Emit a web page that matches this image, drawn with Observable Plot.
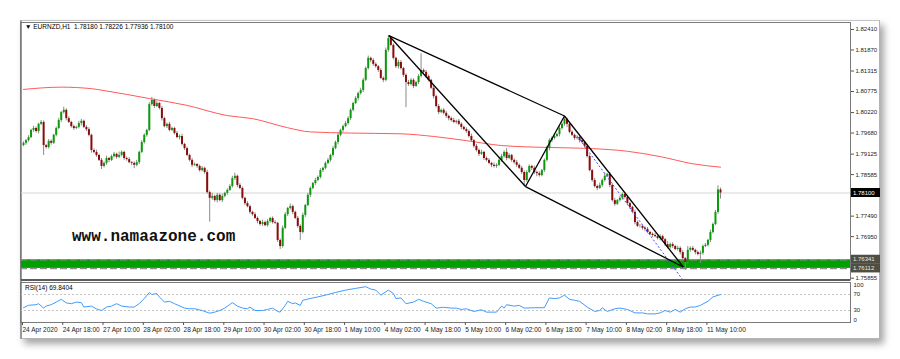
<!DOCTYPE html>
<html><head><meta charset="utf-8">
<script src="https://cdn.jsdelivr.net/npm/d3@7"></script>
<script src="https://cdn.jsdelivr.net/npm/@observablehq/plot@0.6"></script>
<style>
body{margin:0;background:#fff;}
#wrap{position:relative;width:900px;height:359px;overflow:hidden;font-family:"Liberation Sans","DejaVu Sans",sans-serif;}
#win{position:absolute;left:20px;top:20px;width:857px;height:317px;background:#fff;border-left:2px solid #9a9a9a;border-top:1px solid #c4c4c4;border-right:1px solid #b4b4b4;border-bottom:1px solid #b4b4b4;box-shadow:4px 5px 7px rgba(0,0,0,0.35);}
.abs{position:absolute;}
#main,#rsi{width:900px;}
#sep{position:absolute;left:21px;top:279px;width:829px;height:2px;background:#5c5c5c;}
#hdr{left:25px;top:23px;font-size:6.5px;color:#000;white-space:pre;}
#rsil{left:25px;top:284px;font-size:6.5px;color:#000;white-space:pre;}
#wm{left:72px;top:228px;font-family:"Liberation Mono","DejaVu Sans Mono",monospace;font-weight:bold;font-size:16px;color:#111;}
</style></head><body>
<div id="wrap">
<div id="win"></div>
<div id="main" class="abs" style="left:0;top:0"></div>
<div id="rsi" class="abs" style="left:0;top:280px"></div>
<div id="sep"></div>
<div id="hdr" class="abs">▼ EURNZD,H1  1.78180 1.78226 1.77936 1.78100</div>
<div id="rsil" class="abs">RSI(14) 69.8404</div>
<div id="wm" class="abs">www.namaazone.com</div>
</div>
<script>
// ---- data ----
const firstOpen = 1.7935;
const closes = [
1.7941,1.7948,1.7956,1.7975,1.7980,1.7972,1.7991,1.7996,1.7935,1.7930,
1.7946,1.7941,1.7962,1.7980,1.8001,1.8022,1.8028,1.8006,1.7996,1.7985,
1.7980,1.7983,1.7993,1.7999,1.7983,1.7977,1.7962,1.7922,1.7917,1.7909,
1.7896,1.7880,1.7888,1.7901,1.7896,1.7906,1.7912,1.7904,1.7909,1.7917,
1.7901,1.7898,1.7890,1.7888,1.7883,1.7890,1.7917,1.7943,1.7962,1.7975,
1.8043,1.8054,1.8038,1.8046,1.8033,1.8006,1.7985,1.7991,1.7975,1.7980,
1.7967,1.7956,1.7959,1.7938,1.7927,1.7909,1.7896,1.7883,1.7885,1.7880,
1.7869,1.7875,1.7864,1.7811,1.7796,1.7801,1.7790,1.7804,1.7790,1.7801,
1.7809,1.7817,1.7827,1.7848,1.7854,1.7830,1.7822,1.7796,1.7782,1.7774,
1.7759,1.7753,1.7743,1.7735,1.7727,1.7732,1.7724,1.7735,1.7743,1.7732,
1.7730,1.7685,1.7669,1.7717,1.7753,1.7769,1.7774,1.7759,1.7743,1.7722,
1.7706,1.7751,1.7777,1.7804,1.7822,1.7835,1.7843,1.7851,1.7869,1.7875,
1.7888,1.7896,1.7909,1.7927,1.7943,1.7962,1.7975,1.7985,1.7993,1.8006,
1.8028,1.8046,1.8059,1.8072,1.8080,1.8107,1.8138,1.8165,1.8159,1.8149,
1.8143,1.8133,1.8112,1.8107,1.8186,1.8217,1.8199,1.8165,1.8143,1.8154,
1.8138,1.8120,1.8101,1.8096,1.8107,1.8091,1.8101,1.8117,1.8133,1.8128,
1.8117,1.8107,1.8086,1.8064,1.8038,1.8022,1.8028,1.8020,1.8012,1.8006,
1.8001,1.7996,1.7999,1.7991,1.7983,1.7977,1.7972,1.7959,1.7948,1.7933,
1.7922,1.7912,1.7917,1.7901,1.7896,1.7888,1.7883,1.7880,1.7883,1.7896,
1.7906,1.7917,1.7901,1.7909,1.7896,1.7890,1.7883,1.7875,1.7864,1.7843,
1.7864,1.7880,1.7875,1.7864,1.7861,1.7856,1.7869,1.7896,1.7927,1.7948,
1.7954,1.7959,1.7964,1.7980,1.7991,1.8004,1.7991,1.7970,1.7962,1.7954,
1.7956,1.7948,1.7943,1.7933,1.7906,1.7869,1.7843,1.7827,1.7822,1.7830,
1.7843,1.7854,1.7859,1.7830,1.7790,1.7780,1.7790,1.7796,1.7806,1.7798,
1.7782,1.7772,1.7759,1.7732,1.7722,1.7722,1.7717,1.7714,1.7706,1.7701,
1.7698,1.7695,1.7690,1.7695,1.7687,1.7674,1.7666,1.7674,1.7669,1.7661,
1.7664,1.7653,1.7637,1.7627,1.7659,1.7664,1.7659,1.7653,1.7648,1.7651,
1.7669,1.7672,1.7685,1.7706,1.7727,1.7759,1.7818,1.7810];
// upper / lower wick lengths in pips (0.0001)
const hiWick = [
4,3,5,3,6,4,3,5,4,3, 5,4,3,4,6,3,8,4,5,3, 4,3,6,5,3,4,5,3,4,6, 3,5,4,6,3,4,5,3,9,4,
3,4,5,3,4,6,3,5,4,3, 5,8,4,6,3,5,4,3,5,4, 3,5,4,6,3,4,3,5,4,3, 4,5,3,6,4,8,3,5,4,6,
3,4,5,6,8,3,5,4,3,5, 4,3,5,4,3,6,4,5,3,4, 5,3,4,6,5,3,7,4,3,5, 4,6,3,5,4,3,6,4,5,3,
4,5,3,6,4,5,3,4,6,5, 4,3,5,4,6,5,4,6,3,5, 4,3,5,4,6,8,5,4,3,6, 5,3,4,6,5,4,3,5,44,4,
5,4,3,6,4,5,3,4,5,3, 4,6,3,5,4,3,5,4,6,3, 5,4,6,3,4,5,3,6,4,5, 6,4,10,5,3,4,6,3,5,4,
5,4,3,6,4,5,3,4,6,5, 4,6,3,5,4,9,3,5,4,3, 5,4,6,3,5,4,3,5,4,6, 4,8,3,5,4,6,3,5,4,3,
5,4,3,6,4,5,3,4,5,3, 4,6,3,5,4,3,8,4,5,3, 6,4,5,3,10,4,5,3,4,6, 4,5,3,6,4,5,11,5];
const loWick = [
3,5,4,3,5,4,6,3,26,4, 4,5,3,4,3,5,4,6,3,4, 5,3,4,6,3,5,4,7,4,5, 3,8,4,5,6,3,4,5,3,4,
5,4,3,6,9,4,5,3,4,5, 3,4,5,3,4,6,3,5,4,3, 4,3,6,4,5,3,4,6,3,5, 4,3,5,4,63,5,4,6,3,5,
4,5,3,4,5,6,3,4,5,3, 5,4,3,6,4,5,3,4,5,4, 3,5,8,4,3,5,4,6,3,5, 21,4,5,3,6,4,5,3,4,5,
4,3,5,4,3,6,4,5,3,4, 5,4,3,6,4,5,3,4,6,5, 4,5,3,6,4,5,3,4,5,6, 4,5,66,5,4,6,3,5,4,3,
5,4,3,6,4,5,3,4,5,6, 4,3,5,4,6,3,5,4,3,5, 4,6,3,5,4,3,6,4,5,3, 5,4,6,3,5,4,6,3,5,16,
4,3,6,5,8,4,3,5,4,6, 5,4,3,6,4,5,8,4,3,5, 4,6,3,5,4,3,5,4,6,3, 5,4,3,6,4,5,3,4,5,4,
3,5,4,6,3,4,5,6,3,4, 5,3,4,6,4,5,3,4,5,3, 4,6,5,21,4,5,3,6,4,24, 5,3,4,6,4,3,5,16];
// moving average [bar, price]
const maPts = [[0,1.8083],[15,1.8089],[27,1.8085],[32,1.8080],[50,1.8059],[65,1.8041],[81,1.8014],[91,1.8006],[105,1.7982],[114,1.7971],[130,1.7968],[150,1.7966],[163,1.7959],[176,1.7948],[190,1.7935],[203,1.7931],[216,1.7929],[226,1.7927],[240,1.7920],[253,1.7906],[266,1.7887],[277,1.7878]];
// RSI(14) [bar, value]
const rsiPts = [[0,37],[2,43],[5,44.5],[6,47],[8,36],[9,41],[11,44.5],[13,51],[15,58],[17,49],[19,47],[21,51],[23,49.6],[24,38.6],[27,41],[29,34],[31,30],[33,38.6],[35,41],[37,47],[39,41],[42,38.6],[44,38.6],[46,47],[48,59.8],[50,75],[51,70],[53,72.5],[54,64],[56,51],[58,53],[60,47],[64,36],[66,34.3],[68,34.3],[71,30],[74,23.3],[76,25.9],[78,30],[80,36],[83,49.6],[85,41],[87,36],[89,34.3],[90,38.6],[92,30],[95,30],[97,32.6],[99,36],[101,27.6],[102,25.9],[104,42.8],[105,53],[107,47],[108,49],[110,42.8],[111,55.6],[115,61.5],[117,64],[121,70],[124,75],[128,81],[132,85.3],[136,89.5],[138,83.6],[140,81],[142,68.3],[145,81],[147,72.5],[148,59.8],[150,61.5],[152,47],[155,51],[157,58],[159,53],[162,47],[164,36],[167,38],[170,36],[172,36],[174,32.6],[176,34.3],[179,27.6],[182,31.8],[184,25.9],[188,25.9],[190,41],[191,36],[192,44.5],[195,41],[197,42.8],[199,36],[203,36.9],[207,37],[209,61.5],[211,59.8],[213,61.5],[215,68.3],[217,58],[219,55.6],[221,53],[224,38.6],[227,27.6],[229,30],[230,36.9],[232,27.6],[235,34.3],[237,36],[240,32.6],[243,24],[246,24],[248,21.6],[251,21.6],[253,24],[255,30],[257,25.9],[259,32.6],[261,25.9],[263,34.3],[265,38.6],[267,38.6],[269,42.8],[272,53],[274,64],[277,69.84]];
// trend-line pivots [bar, price]
const peak = [145.2, 1.8225], lowPivot = [199.5, 1.7827], upPivot = [215.0, 1.8013], bottomPivot = [262.2, 1.7615];
const trendLines = [[peak, upPivot],[peak, lowPivot],[lowPivot, upPivot],[upPivot, bottomPivot],[lowPivot, bottomPivot]];
const channelLine = [[220.2, 1.7959],[261.9, 1.7582]];
const zoneHi = 1.76341, zoneLo = 1.76112;
const priceTicks = [1.82410,1.81870,1.81315,1.80775,1.80220,1.79680,1.79125,1.78585,1.78045,1.77490,1.76950,1.76410,1.75855];
const coveredTicks = [1.78045, 1.76410]; // labels hidden under the boxed price labels
const rsiTicks = [0,30,70,100];
const dateTicks = [0,16,32,48,64,80,96,112,128,144,160,176,192,208,224,240,256,272];
const dateLabels = ["24 Apr 2020","24 Apr 18:00","27 Apr 10:00","28 Apr 02:00","28 Apr 18:00","29 Apr 10:00","30 Apr 02:00","30 Apr 18:00","1 May 10:00","4 May 02:00","4 May 18:00","5 May 10:00","6 May 02:00","6 May 18:00","7 May 10:00","8 May 02:00","8 May 18:00","11 May 10:00"];

// ---- build tables ----
const bars = closes.map((c, i) => {
  const o = i === 0 ? firstOpen : closes[i - 1];
  return {i, o, c, h: Math.max(o, c) + hiWick[i] / 10000, l: Math.min(o, c) - loWick[i] / 10000};
});
const lastClose = closes[closes.length - 1];
const ma = maPts.map(([i, v]) => ({i, v}));
const rsi = rsiPts.map(([i, v]) => ({i, v}));
const links = trendLines.map(([a, b]) => ({x1: a[0], y1: a[1], x2: b[0], y2: b[1]}));
const chan = [{x1: channelLine[0][0], y1: channelLine[0][1], x2: channelLine[1][0], y2: channelLine[1][1]}];
const xScale = {domain: [0, 277], range: [23, 720]};
const font = "Liberation Sans, DejaVu Sans, sans-serif";
const svgStyle = {background: "transparent", fontFamily: font, maxWidth: "none", overflow: "visible"};

const main = Plot.plot({
  width: 900, height: 281, marginLeft: 20, marginRight: 50, marginTop: 22, marginBottom: 1.5,
  style: svgStyle,
  x: {...xScale, axis: null},
  y: {domain: [1.75807, 1.82594], label: null},
  marks: [
    Plot.rect([{a: zoneLo, b: zoneHi}], {y1: "a", y2: "b", fill: "#00a000"}),
    Plot.ruleY([zoneHi, zoneLo], {stroke: "#8e8e8e", strokeWidth: 1.6, strokeDasharray: "7,3"}),
    Plot.ruleY([lastClose], {stroke: "#d6d6d6", strokeWidth: 1.2}),
    Plot.line(ma, {x: "i", y: "v", stroke: "#ff5a5a", strokeWidth: 1, curve: "monotone-x"}),
    Plot.ruleX(bars, {x: "i", y1: "l", y2: "h", stroke: "#8a8a8a", strokeWidth: 1}),
    Plot.ruleX(bars, {x: "i", y1: "o", y2: "c", stroke: d => d.c >= d.o ? "#0a9a0a" : "#8b0a0a", strokeWidth: 2}),
    Plot.link(chan, {x1: "x1", y1: "y1", x2: "x2", y2: "y2", stroke: "#4848ff", strokeWidth: 1, strokeDasharray: "2,2"}),
    Plot.link(links, {x1: "x1", y1: "y1", x2: "x2", y2: "y2", stroke: "#000", strokeWidth: 1.3}),
    Plot.frame({stroke: "#7a7a7a"}),
    Plot.axisY(priceTicks, {anchor: "right", label: null, tickSize: 3, tickPadding: 2, tickFormat: d => coveredTicks.includes(d) ? "" : d.toFixed(5), fontSize: 6, fill: "#222", stroke: "#555"})
  ]
});
document.getElementById("main").appendChild(main);

// boxed price labels on the right axis, positioned with the plot's own y scale
const ys = main.scale("y");
const boxes = [{v: lastClose, bg: "#000", fg: "#fff"}, {v: zoneHi, bg: "#4e4e42", fg: "#e8e8e0"}, {v: zoneLo, bg: "#4e4e42", fg: "#e8e8e0"}];
const sel = d3.select(main);
for (const b of boxes) {
  const y = ys.apply(b.v);
  sel.append("rect").attr("x", 851).attr("y", y - 4.5).attr("width", 29).attr("height", 9).attr("fill", b.bg);
  sel.append("text").attr("x", 853).attr("y", y).attr("dy", "0.35em").attr("text-anchor", "start")
    .attr("font-size", 6).attr("font-family", font).attr("fill", b.fg).text(b.v.toFixed(5));
}

const rsiPlot = Plot.plot({
  width: 900, height: 58, marginLeft: 20, marginRight: 50, marginTop: 2, marginBottom: 16,
  style: svgStyle,
  x: {...xScale, label: null},
  y: {domain: [0, 100], label: null},
  marks: [
    Plot.ruleY([30, 70], {stroke: "#c4c4c4", strokeDasharray: "2,2"}),
    Plot.line(rsi, {x: "i", y: "v", stroke: "#3f9cff", strokeWidth: 1}),
    Plot.frame({stroke: "#7a7a7a"}),
    Plot.axisY([30, 70], {anchor: "right", label: null, tickSize: 0, tickPadding: 3, fontSize: 6, fill: "#222"}),
    Plot.axisY([rsiTicks[3]], {anchor: "right", label: null, tickSize: 0, tickPadding: 3, dy: 2.5, fontSize: 6, fill: "#222"}),
    Plot.axisY([rsiTicks[0]], {anchor: "right", label: null, tickSize: 0, tickPadding: 3, dy: -2.5, fontSize: 6, fill: "#222"}),
    Plot.axisX(dateTicks, {anchor: "bottom", label: null, tickSize: 3, tickPadding: 2, tickFormat: d => dateLabels[dateTicks.indexOf(d)], textAnchor: "start", dx: -1, fontSize: 6.5, fill: "#222", stroke: "#555"})
  ]
});
document.getElementById("rsi").appendChild(rsiPlot);
</script>
</body></html>
